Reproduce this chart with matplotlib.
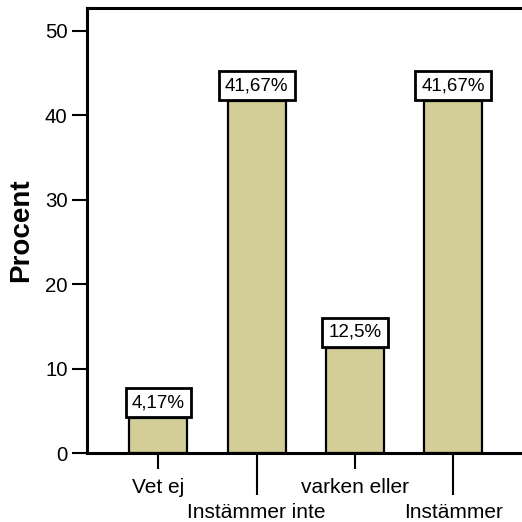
import matplotlib
matplotlib.use("Agg")
import matplotlib.pyplot as plt

categories = ["Vet ej", "Instämmer inte", "varken eller", "Instämmer"]
values = [4.17, 41.67, 12.5, 41.67]
value_labels = ["4,17%", "41,67%", "12,5%", "41,67%"]
y_ticks = [0, 10, 20, 30, 40, 50]

plt.rcParams['font.family'] = ['Liberation Sans', 'DejaVu Sans']

fig = plt.figure(figsize=(5.22, 5.22), dpi=100)
ax = fig.add_axes([87/522, 1 - 453.3/522, (520-87)/522, (453.3-8)/522])

pos = list(range(len(categories)))
ax.bar(pos, values, width=0.59, color="#d3ce97", edgecolor="black", linewidth=1.6, zorder=2)

for x, v, lab in zip(pos, values, value_labels):
    ax.annotate(lab, xy=(x, v), xytext=(0, 5.0), textcoords="offset points",
                ha="center", va="bottom", fontsize=13.5, zorder=3,
                bbox=dict(boxstyle="square,pad=0.33", fc="white", ec="black", lw=2))

ax.set_xlim(-0.727, 3.68)
ax.set_ylim(0, 52.7)
ax.set_yticks(y_ticks)
ax.set_yticklabels([str(t) for t in y_ticks], fontsize=14.7)
ax.tick_params(axis="y", length=11, width=1.5, pad=3)

ax.set_xticks(pos[0::2], [categories[i] for i in pos[0::2]])
ax.set_xticks(pos[1::2], [categories[i] for i in pos[1::2]], minor=True)
ax.tick_params(axis="x", which="major", length=11.5, width=1.5, pad=6, labelsize=15)
ax.tick_params(axis="x", which="minor", length=30, width=1.5, pad=6, labelsize=15)

ax.spines["right"].set_visible(False)
for s in ["left", "bottom", "top"]:
    ax.spines[s].set_linewidth(2.2)

ax.set_ylabel("Procent", fontsize=20, fontweight="bold", labelpad=8)

fig.savefig("out.png", dpi=100)
